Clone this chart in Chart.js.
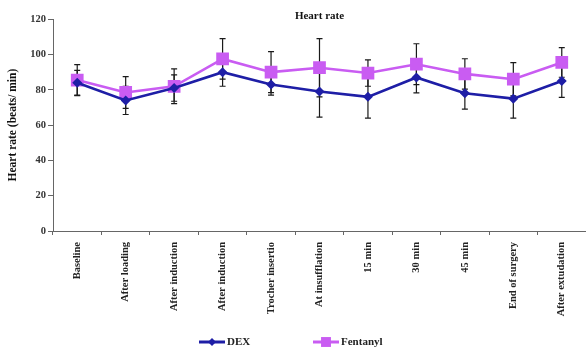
<!DOCTYPE html>
<html>
<head>
<meta charset="utf-8">
<script src="https://cdn.jsdelivr.net/npm/chart.js@4.4.1/dist/chart.umd.min.js"></script>
<style>
    html, body { margin: 0; padding: 0; background: #fff; overflow: hidden; }
    #wrap { width: 586px; height: 350px; }
</style>
</head>
<body>
<div id="wrap"><canvas id="chart"></canvas></div>
<script>
// time points on the x axis
const timePoints = ['Baseline', 'After loading', 'After induction', 'After induction', 'Trocher insertio',
    'At insufflation', '15 min', '30 min', '45 min', 'End of surgery', 'After extudation'];

// mean heart rate and SD per group
const dexMean = [84, 74, 81, 90, 83, 79, 76, 87, 78, 75, 85];
const dexSD = [7, 8, 7.5, 8, 6, 14.5, 12, 8.7, 9, 11, 9.3];
const fentanylMean = [85.5, 78.5, 82, 97.5, 90, 92.5, 89.5, 94.5, 89, 86, 95.5];
const fentanylSD = [8.8, 9, 9.8, 11.5, 11.6, 16.5, 7.5, 11.6, 8.6, 9.4, 8.4];

const yTicks = [0, 20, 40, 60, 80, 100, 120];

const SERIF = "'Liberation Serif', 'DejaVu Serif', serif";
const PAGE_W = 586;

/**
 * Draw +/- SD error bars behind the markers
 */
const errorBars = {
    id: 'errorBars',
    beforeDatasetsDraw(chart) {
        const ctx = chart.ctx;
        const yScale = chart.scales.y;
        const sds = [dexSD, fentanylSD];
        ctx.save();
        ctx.strokeStyle = '#1a1a1a';
        ctx.lineWidth = 1.2;
        chart.data.datasets.forEach((ds, i) => {
            const meta = chart.getDatasetMeta(i);
            meta.data.forEach((pt, j) => {
                const top = yScale.getPixelForValue(ds.data[j] + sds[i][j]);
                const bot = yScale.getPixelForValue(ds.data[j] - sds[i][j]);
                ctx.beginPath();
                ctx.moveTo(pt.x, top);
                ctx.lineTo(pt.x, bot);
                ctx.moveTo(pt.x - 3, top);
                ctx.lineTo(pt.x + 3, top);
                ctx.moveTo(pt.x - 3, bot);
                ctx.lineTo(pt.x + 3, bot);
                ctx.stroke();
            });
        });
        ctx.restore();
    }
};

/**
 * Legend with line + marker, like the original figure
 */
const lineLegend = {
    id: 'lineLegend',
    afterDraw(chart) {
        const ctx = chart.ctx;
        const y = 342;
        const starts = [199, 313];
        ctx.save();
        chart.data.datasets.forEach((ds, i) => {
            const x = starts[i];
            ctx.strokeStyle = ds.borderColor;
            ctx.lineWidth = 3;
            ctx.beginPath();
            ctx.moveTo(x, y);
            ctx.lineTo(x + 26, y);
            ctx.stroke();
            ctx.fillStyle = ds.borderColor;
            ctx.strokeStyle = ds.borderColor;
            Chart.helpers.drawPoint(ctx, {
                pointStyle: ds.pointStyle,
                radius: i === 0 ? 4 : 7,
                rotation: 0,
                borderWidth: 0
            }, x + 13, y);
            ctx.fillStyle = '#222';
            ctx.font = "bold 11px " + SERIF;
            ctx.textBaseline = 'middle';
            ctx.textAlign = 'left';
            ctx.fillText(ds.label, x + 28, y);
        });
        ctx.restore();
    }
};

const chart = new Chart(document.getElementById('chart'), {
    type: 'line',
    data: {
        labels: timePoints,
        datasets: [{
            label: 'DEX',
            data: dexMean,
            borderColor: '#1e1ea6',
            backgroundColor: '#1e1ea6',
            borderWidth: 2.6,
            pointStyle: 'rectRot',
            pointRadius: 5,
            pointBorderWidth: 0,
            tension: 0
        }, {
            label: 'Fentanyl',
            data: fentanylMean,
            borderColor: '#c95cf2',
            backgroundColor: '#c95cf2',
            borderWidth: 2.6,
            pointStyle: 'rect',
            pointRadius: 9,
            pointBorderWidth: 0,
            tension: 0
        }]
    },
    options: {
        responsive: true,
        maintainAspectRatio: false,
        animation: false,
        layout: { padding: { left: 0, right: 0, top: 0, bottom: 30 } },
        plugins: {
            legend: { display: false },
            tooltip: { enabled: false },
            title: {
                display: true,
                text: 'Heart rate',
                fullSize: false,
                color: '#111',
                font: { family: SERIF, size: 11, weight: 'bold' },
                padding: { top: 10, bottom: -4 }
            }
        },
        scales: {
            x: {
                offset: true,
                afterFit: (s) => {
                    s.height = 89;
                    s.paddingLeft = 0;
                    s.paddingRight = 0;
                },
                grid: { drawOnChartArea: false, offset: true, tickLength: 4, color: '#666' },
                border: { color: '#666' },
                ticks: {
                    autoSkip: false,
                    maxRotation: 90,
                    minRotation: 90,
                    padding: 7,
                    color: '#222',
                    font: { family: SERIF, size: 10.5, weight: 'bold' }
                }
            },
            y: {
                min: 0,
                max: 120,
                afterFit: (s) => { s.width = 53; },
                afterBuildTicks: (s) => { s.ticks = yTicks.map(v => ({ value: v })); },
                grid: { drawOnChartArea: false, tickLength: 5, color: '#666' },
                border: { color: '#666' },
                title: {
                    display: true,
                    text: 'Heart rate (beats/ min)',
                    color: '#111',
                    font: { family: SERIF, size: 11.5, weight: 'bold' },
                    padding: { top: 6, bottom: 0 }
                },
                ticks: {
                    padding: 2,
                    color: '#333',
                    font: { family: SERIF, size: 10.5, weight: 'bold' }
                }
            }
        }
    },
    plugins: [errorBars, lineLegend]
});

// the plot in the original runs right to the edge: widen the canvas so the
// leftover right gap falls outside the window
const gap = chart.width - chart.chartArea.right;
if (gap > 0) {
    document.getElementById('wrap').style.width = (PAGE_W + gap) + 'px';
    chart.resize();
}
</script>
</body>
</html>
